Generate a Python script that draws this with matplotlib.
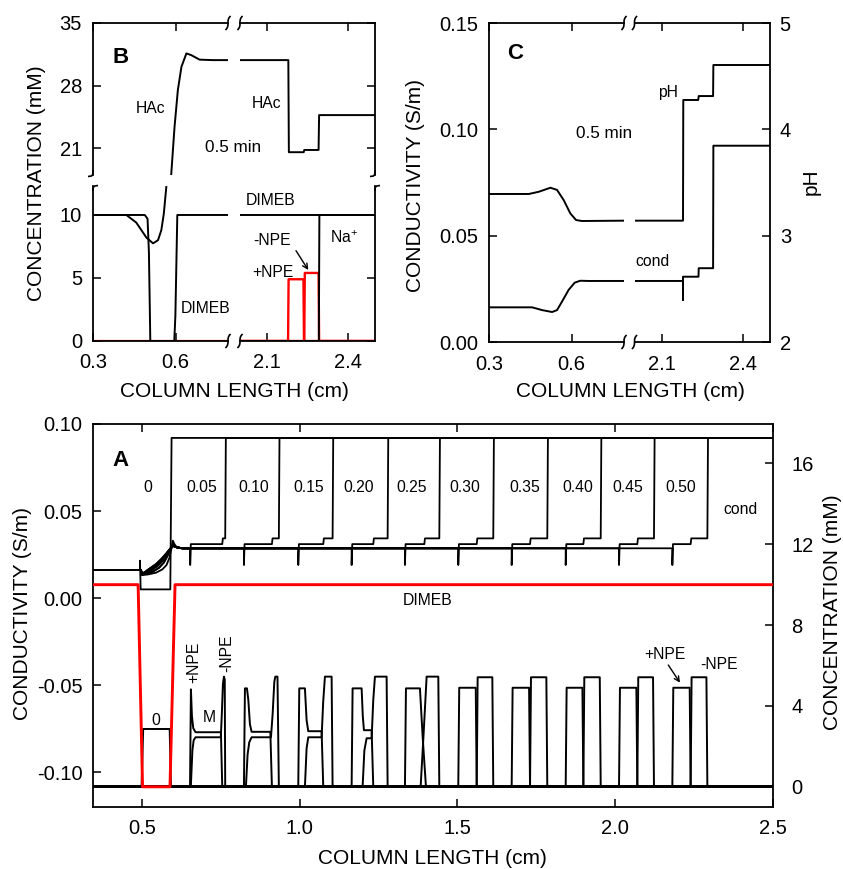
import numpy as np
import matplotlib
matplotlib.use("Agg")
import matplotlib.pyplot as plt
from matplotlib.lines import Line2D

plt.rcParams["font.family"] = ["Liberation Sans", "DejaVu Sans"]
plt.rcParams["axes.unicode_minus"] = False
plt.rcParams["mathtext.fontset"] = "custom"
plt.rcParams["mathtext.rm"] = "Liberation Sans"
plt.rcParams["mathtext.it"] = "Liberation Sans:italic"
plt.rcParams["mathtext.bf"] = "Liberation Sans:bold"

# ======================= DATA: panel A =======================
a_time_labels = ["0", "0.05", "0.10", "0.15", "0.20", "0.25",
                 "0.30", "0.35", "0.40", "0.45", "0.50"]
# conductivity at t = 0
a_cond0_x = [0.345, 0.494, 0.494, 0.496, 0.590, 0.594, 2.5]
a_cond0_y = [0.0161, 0.0161, 0.0215, 0.005, 0.005, 0.092, 0.092]
# conductivity shapes around the original sample zone
a_head_x = [
    [0.500, 0.520, 0.545, 0.565, 0.578, 0.588, 0.594, 0.598, 0.603, 0.610, 0.625],
    [0.500, 0.515, 0.535, 0.555, 0.570, 0.582, 0.592, 0.600, 0.610, 0.625],
    [0.500, 0.512, 0.530, 0.550, 0.566, 0.580, 0.590, 0.598, 0.610, 0.628],
    [0.500, 0.515, 0.530, 0.547, 0.562, 0.575, 0.587, 0.597, 0.610, 0.630],
    [0.500, 0.510, 0.525, 0.545, 0.562, 0.578, 0.590, 0.600, 0.612, 0.632],
]
a_head_y = [
    [0.0132, 0.0136, 0.0146, 0.0165, 0.0190, 0.0235, 0.0290, 0.0330, 0.0310, 0.0292, 0.0286],
    [0.0135, 0.0140, 0.0152, 0.0175, 0.0205, 0.0245, 0.0285, 0.0305, 0.0293, 0.0286],
    [0.0137, 0.0145, 0.0160, 0.0185, 0.0215, 0.0250, 0.0282, 0.0302, 0.0292, 0.0286],
    [0.0138, 0.0148, 0.0165, 0.0190, 0.0215, 0.0245, 0.0275, 0.0300, 0.0292, 0.0286],
    [0.0140, 0.0150, 0.0170, 0.0195, 0.0225, 0.0258, 0.0285, 0.0300, 0.0290, 0.0286],
]
a_head_of = [0, 1, 1, 2, 2, 3, 3, 4, 4, 4]
# zone boundaries for t = 0.05 ... 0.50 (cm)
a_zone_left = [0.653, 0.8233, 0.9955, 1.1646, 1.3336, 1.5026, 1.6718, 1.843, 2.012, 2.181]
a_zone_step = [0.7546, 0.912, 1.0747, 1.2332, 1.395, 1.561, 1.730, 1.899, 2.070, 2.239]
a_zone_right = [0.764, 0.934, 1.1043, 1.2787, 1.4425, 1.6135, 1.7847, 1.954, 2.1228, 2.292]
a_cond_start = 0.0161
a_cond_plateau = 0.0286
a_cond_dip = 0.019
a_cond_npe1 = 0.031
a_cond_npe2 = 0.0343
a_cond_top = 0.092

# concentrations (mM)
a_sample0_x = [0.345, 0.499, 0.504, 0.588, 0.592, 2.5]
a_sample0_y = [0, 0, 2.86, 2.86, 0, 0]
a_dimeb_x = [0.345, 0.488, 0.502, 0.589, 0.605, 2.5]
a_dimeb_y = [10, 10, 0, 0, 10, 10]
# +NPE / -NPE profiles for the partly resolved times 0.05 ... 0.25
a_pos_x = [
    [0.345, 0.6525, 0.6553, 0.6585, 0.6627, 0.670, 0.7504, 0.7546, 2.5],
    [0.345, 0.8233, 0.8265, 0.8329, 0.8372, 0.8423, 0.8476, 0.907, 0.912, 2.5],
    [0.345, 0.9955, 0.9987, 1.0166, 1.0219, 1.0272, 1.0695, 1.0747, 2.5],
    [0.345, 1.1646, 1.1677, 1.1963, 1.2000, 1.2036, 1.228, 1.2332, 2.5],
    [0.345, 1.3336, 1.3368, 1.3811, 1.3900, 1.4002, 2.5],
]
a_pos_y = [
    [0, 0, 4.82, 3.5, 2.9, 2.7, 2.7, 0, 0],
    [0, 0, 4.87, 4.87, 4.3, 3.1, 2.72, 2.72, 0, 0],
    [0, 0, 4.87, 4.87, 3.3, 2.75, 2.75, 0, 0],
    [0, 0, 4.87, 4.87, 3.5, 2.8, 2.8, 0, 0],
    [0, 0, 4.87, 4.87, 2.4, 0, 0],
]
a_neg_x = [
    [0.345, 0.655, 0.660, 0.664, 0.670, 0.750, 0.753, 0.7568, 0.760, 0.7625, 0.764, 2.5],
    [0.345, 0.8296, 0.8349, 0.8402, 0.8476, 0.909, 0.9143, 0.9196, 0.9228, 0.9296, 0.934, 2.5],
    [0.345, 1.0166, 1.0219, 1.0272, 1.0695, 1.0745, 1.080, 1.1012, 1.1043, 2.5],
    [0.345, 1.1994, 1.205, 1.2121, 1.228, 1.2332, 1.2385, 1.2755, 1.2787, 2.5],
    [0.345, 1.3833, 1.3930, 1.4023, 1.4393, 1.4425, 2.5],
]
a_neg_y = [
    [0, 0, 1.8, 2.3, 2.45, 2.45, 3.5, 5.1, 5.45, 5.3, 0, 0],
    [0, 0, 1.6, 2.2, 2.45, 2.45, 3.6, 5.2, 5.45, 5.45, 0, 0],
    [0, 0, 1.9, 2.45, 2.45, 4.2, 5.45, 5.45, 0, 0],
    [0, 0, 1.8, 2.4, 2.4, 4.3, 5.45, 5.45, 0, 0],
    [0, 0, 2.7, 5.45, 5.45, 0, 0],
]
# fully resolved times 0.30 ... 0.50
a_sep_left = [1.5026, 1.6718, 1.843, 2.012, 2.181]
a_sep_mid = [1.561, 1.730, 1.899, 2.070, 2.239]
a_sep_right = [1.6135, 1.7847, 1.954, 2.1228, 2.292]
a_sep_pos_h = 4.9
a_sep_neg_h = 5.42

# ======================= DATA: panel B =======================
b_hac_left_x = [0.3, 0.421, 0.457, 0.494, 0.518, 0.536, 0.548, 0.557, 0.566, 0.575,
                0.584, 0.596, 0.608, 0.621, 0.639, 0.657, 0.687, 0.735, 0.79]
b_hac_left_y = [10.0, 10.0, 9.4, 8.2, 7.75, 8.0, 8.8, 10.1, 12.2, 15.0,
                18.1, 23.4, 27.5, 30.1, 31.6, 31.4, 30.9, 30.85, 30.85]
b_hac_right_x = [2.0, 2.179, 2.181, 2.236, 2.238, 2.291, 2.293, 2.5]
b_hac_right_y = [30.85, 30.85, 20.55, 20.55, 20.8, 20.8, 24.7, 24.7]
b_dimeb_left_x = [0.3, 0.488, 0.498, 0.503, 0.508, 0.595, 0.599, 0.606, 0.79]
b_dimeb_left_y = [10, 10, 9.7, 7, 0, 0, 2, 10, 10]
b_dimeb_right_x = [2.0, 2.5]
b_dimeb_right_y = [10, 10]
b_na_x = [2.0, 2.292, 2.294, 2.5]
b_na_y = [0, 0, 10, 10]
b_pnpe_x = [2.0, 2.178, 2.180, 2.235, 2.237, 2.5]
b_pnpe_y = [0, 0, 4.9, 4.9, 0, 0]
b_mnpe_x = [2.0, 2.238, 2.240, 2.291, 2.293, 2.5]
b_mnpe_y = [0, 0, 5.4, 5.4, 0, 0]
b_npe_left_x = [0.3, 0.79]
b_npe_left_y = [0, 0]

# ======================= DATA: panel C =======================
c_cond_left_x = [0.3, 0.4566, 0.4928, 0.529, 0.547, 0.565, 0.589, 0.611, 0.631, 0.6615, 0.79]
c_cond_left_y = [0.0163, 0.0163, 0.0150, 0.0141, 0.0150, 0.0190, 0.0245, 0.0279, 0.0288, 0.0287, 0.0287]
c_cond_right_x = [2.0, 2.179, 2.179, 2.179, 2.236, 2.237, 2.290, 2.291, 2.5]
c_cond_right_y = [0.0287, 0.0287, 0.0198, 0.0307, 0.0307, 0.0347, 0.0347, 0.0923, 0.0923]
c_ph_left_x = [0.3, 0.4446, 0.4808, 0.523, 0.547, 0.571, 0.595, 0.616, 0.637, 0.79]
c_ph_left_y = [3.392, 3.392, 3.413, 3.451, 3.43, 3.335, 3.21, 3.147, 3.138, 3.141]
c_ph_right_x = [2.0, 2.179, 2.180, 2.235, 2.237, 2.290, 2.291, 2.5]
c_ph_right_y = [3.141, 3.141, 4.276, 4.276, 4.313, 4.313, 4.605, 4.605]

# ======================= FIGURE =======================
W, H = 843, 869
fig = plt.figure(figsize=(W / 100, H / 100), dpi=100)
RED = "#ff0000"
TICK_FS = 14.5
LAB_FS = 15
ANN_FS = 11.3
LW = 1.4


def rect(x0, x1, y0, y1):
    return [x0 / W, 1 - y1 / H, (x1 - x0) / W, (y1 - y0) / H]


def ftext(x, y, s, **kw):
    return fig.text(x / W, 1 - y / H, s, **kw)


def fline(xs, ys, lw=1.3):
    xs = np.asarray(xs, float)
    ys = np.asarray(ys, float)
    fig.add_artist(Line2D(xs / W, 1 - ys / H, transform=fig.transFigure,
                          color="k", lw=lw, solid_capstyle="butt"))


def squig(xc, yc):
    t = np.linspace(-1, 1, 25)
    fline(xc - 2.6 * t ** 3, yc + 7 * t, lw=1.2)


def style(ax):
    for s in ax.spines.values():
        s.set_linewidth(1.3)
    ax.tick_params(direction="in", length=6, width=1.1, labelsize=TICK_FS)
    ax.patch.set_alpha(0)


# ---------------- Panel B ----------------
bUL = fig.add_axes(rect(93, 228, 23, 175))
bUR = fig.add_axes(rect(240, 375, 23, 175))
bLL = fig.add_axes(rect(93, 228, 186, 341))
bLR = fig.add_axes(rect(240, 375, 186, 341))
for a in (bUL, bUR, bLL, bLR):
    style(a)
for a in (bUL, bLL):
    a.set_xlim(0.3, 0.79)
for a in (bUR, bLR):
    a.set_xlim(2.0, 2.5)
for a in (bUL, bUR):
    a.set_ylim(18.0, 35.0)
for a in (bLL, bLR):
    a.set_ylim(0, 12.3)

bUL.spines["right"].set_visible(False); bUL.spines["bottom"].set_visible(False)
bUR.spines["left"].set_visible(False); bUR.spines["bottom"].set_visible(False)
bLL.spines["right"].set_visible(False); bLL.spines["top"].set_visible(False)
bLR.spines["left"].set_visible(False); bLR.spines["top"].set_visible(False)

bUL.set_xticks([0.3, 0.6]); bUL.set_yticks([21, 28, 35])
bUL.tick_params(bottom=False, labelbottom=False, top=True, right=False)
bUL.tick_params(axis="y", pad=8)
bUR.set_xticks([2.1, 2.4]); bUR.set_yticks([21, 28, 35])
bUR.tick_params(bottom=False, labelbottom=False, top=True, left=False, labelleft=False, right=True)
bLL.set_xticks([0.3, 0.6]); bLL.set_xticklabels(["0.3", "0.6"]); bLL.set_yticks([0, 5, 10])
bLL.tick_params(top=False, right=False)
bLL.tick_params(axis="y", pad=8)
bLL.tick_params(axis="x", pad=9)
bLR.set_xticks([2.1, 2.4]); bLR.set_xticklabels(["2.1", "2.4"]); bLR.set_yticks([0, 5, 10])
bLR.tick_params(top=False, left=False, labelleft=False, right=True)
bLR.tick_params(axis="x", pad=9)

for a in (bUL, bLL):
    a.plot(b_npe_left_x, b_npe_left_y, color=RED, lw=1.6, zorder=2)
    a.plot(b_hac_left_x, b_hac_left_y, color="k", lw=LW, zorder=3)
    a.plot(b_dimeb_left_x, b_dimeb_left_y, color="k", lw=LW, zorder=3)
for a in (bUR, bLR):
    a.plot(b_pnpe_x, b_pnpe_y, color=RED, lw=1.7, zorder=2)
    a.plot(b_mnpe_x, b_mnpe_y, color=RED, lw=1.7, zorder=2)
    a.plot(b_hac_right_x, b_hac_right_y, color="k", lw=LW, zorder=3)
    a.plot(b_dimeb_right_x, b_dimeb_right_y, color="k", lw=LW, zorder=3)
    a.plot(b_na_x, b_na_y, color="k", lw=LW, zorder=3)

# break marks panel B
for yc in (23, 341):
    squig(228, yc)
    squig(240, yc)
for xc in (93, 375):
    fline([xc, xc, xc - 1.5, xc - 5], [170, 174, 176, 176.5], lw=1.2)
    fline([xc + 5, xc + 1.5, xc, xc], [185.5, 186, 188, 191], lw=1.2)

ftext(121, 62.7, "B", fontsize=16, fontweight="bold", ha="center", va="baseline")
ftext(151, 113.3, "HAc", fontsize=ANN_FS, ha="center", va="baseline")
ftext(267, 108.3, "HAc", fontsize=ANN_FS, ha="center", va="baseline")
ftext(233.5, 151.7, "0.5 min", fontsize=12.3, ha="center", va="baseline")
ftext(271, 205, "DIMEB", fontsize=ANN_FS, ha="center", va="baseline")
ftext(206, 312.7, "DIMEB", fontsize=ANN_FS, ha="center", va="baseline")
ftext(272, 245, "-NPE", fontsize=ANN_FS, ha="center", va="baseline")
ftext(273, 276.7, "+NPE", fontsize=ANN_FS, ha="center", va="baseline")
ftext(330, 243.3, r"Na$^{+}$", fontsize=ANN_FS, ha="left", va="baseline")
bLR.annotate("", xy=(308.3 / W, 1 - 270 / H), xytext=(296 / W, 1 - 250.7 / H),
             xycoords="figure fraction", textcoords="figure fraction",
             arrowprops=dict(arrowstyle="->", lw=1.0, color="k", mutation_scale=9,
                             shrinkA=0, shrinkB=0))
ftext(37, 183, "CONCENTRATION (mM)", fontsize=LAB_FS, rotation=90, ha="center", va="center")
ftext(234, 391, "COLUMN LENGTH (cm)", fontsize=LAB_FS, ha="center", va="center")

# ---------------- Panel C ----------------
cL = fig.add_axes(rect(489, 624, 23, 342))
cR = fig.add_axes(rect(634.5, 770, 23, 342))
for a in (cL, cR):
    style(a)
    a.set_ylim(0, 0.15)
cL.set_xlim(0.3, 0.79)
cR.set_xlim(2.0, 2.5)
tL = cL.twinx()
tR = cR.twinx()
cL.spines["right"].set_visible(False)
cR.spines["left"].set_visible(False)
cL.set_xticks([0.3, 0.6]); cL.set_xticklabels(["0.3", "0.6"])
cL.set_yticks([0, 0.05, 0.10, 0.15]); cL.set_yticklabels(["0.00", "0.05", "0.10", "0.15"])
cL.tick_params(top=True, right=False, left=True, labelleft=True)
cL.tick_params(axis="y", pad=8)
cL.tick_params(axis="x", pad=9)
cR.set_xticks([2.1, 2.4]); cR.set_xticklabels(["2.1", "2.4"])
cR.tick_params(top=True, left=False, labelleft=False, right=False, labelright=False)
cR.tick_params(axis="x", pad=9)
for a in (tL, tR):
    a.set_ylim(2, 5)
    for s in a.spines.values():
        s.set_visible(False)
tL.tick_params(left=False, right=False, labelleft=False, labelright=False)
tR.set_yticks([2, 3, 4, 5])
tR.tick_params(direction="in", length=6, width=1.1, labelsize=TICK_FS,
               right=True, left=False, labelleft=False, pad=7)

cL.plot(c_cond_left_x, c_cond_left_y, color="k", lw=LW)
cR.plot(c_cond_right_x, c_cond_right_y, color="k", lw=LW)
tL.plot(c_ph_left_x, c_ph_left_y, color="k", lw=LW)
tR.plot(c_ph_right_x, c_ph_right_y, color="k", lw=LW)

for yc in (23, 342):
    squig(624, yc)
    squig(634.5, yc)

ftext(515, 59.3, "C", fontsize=16, fontweight="bold", ha="center", va="baseline")
ftext(668.3, 96.7, "pH", fontsize=ANN_FS, ha="center", va="baseline")
ftext(604, 138.3, "0.5 min", fontsize=12.3, ha="center", va="baseline")
ftext(652.7, 266, "cond", fontsize=ANN_FS, ha="center", va="baseline")
ftext(415.5, 185, "CONDUCTIVITY (S/m)", fontsize=LAB_FS, rotation=90, ha="center", va="center")
ftext(811, 182, "pH", fontsize=LAB_FS, rotation=90, ha="center", va="center")
ftext(630, 391, "COLUMN LENGTH (cm)", fontsize=LAB_FS, ha="center", va="center")

# ---------------- Panel A ----------------
axA = fig.add_axes(rect(93, 773, 424, 807))
style(axA)
axA.set_xlim(0.345, 2.5)
axA.set_ylim(-0.12, 0.10)
axA2 = axA.twinx()
axA.set_xticks([0.5, 1.0, 1.5, 2.0, 2.5])
axA.set_xticklabels(["0.5", "1.0", "1.5", "2.0", "2.5"])
axA.set_yticks([-0.10, -0.05, 0.0, 0.05, 0.10])
axA.set_yticklabels(["-0.10", "-0.05", "0.00", "0.05", "0.10"])
axA.tick_params(top=True, right=False, left=True)
axA.tick_params(axis="y", pad=7.5)
axA.tick_params(axis="x", pad=9)
axA2.set_ylim(-1, 17.95)
for s in axA2.spines.values():
    s.set_visible(False)
axA2.set_yticks([0, 4, 8, 12, 16])
axA2.tick_params(direction="in", length=6, width=1.1, labelsize=TICK_FS,
                 right=True, left=False, pad=13)

# conductivity curves
axA.plot(a_cond0_x, a_cond0_y, color="k", lw=1.3)
for i in range(len(a_zone_left)):
    h = a_head_of[i]
    L, S, R = a_zone_left[i], a_zone_step[i], a_zone_right[i]
    xs = [0.345, 0.497] + a_head_x[h] + [L, L, L + 0.002, S, S + 0.002, R, R + 0.002, 2.5]
    ys = ([a_cond_start, a_cond_start] + a_head_y[h] +
          [a_cond_plateau, a_cond_dip, a_cond_npe1, a_cond_npe1,
           a_cond_npe2, a_cond_npe2, a_cond_top, a_cond_top])
    axA.plot(xs, ys, color="k", lw=1.3)

# concentration curves
axA2.plot(a_sample0_x, a_sample0_y, color="k", lw=LW)
for xs, ys in zip(a_pos_x, a_pos_y):
    axA2.plot(xs, ys, color="k", lw=LW)
for xs, ys in zip(a_neg_x, a_neg_y):
    axA2.plot(xs, ys, color="k", lw=LW)
for L, M, R in zip(a_sep_left, a_sep_mid, a_sep_right):
    axA2.plot([0.345, L, L + 0.003, M - 0.003, M, 2.5],
              [0, 0, a_sep_pos_h, a_sep_pos_h, 0, 0], color="k", lw=LW)
    axA2.plot([0.345, M, M + 0.003, R - 0.003, R, 2.5],
              [0, 0, a_sep_neg_h, a_sep_neg_h, 0, 0], color="k", lw=LW)
axA2.plot(a_dimeb_x, a_dimeb_y, color=RED, lw=2.1, zorder=5)

ftext(120, 466, "A", fontsize=16, fontweight="bold", ha="center", va="baseline")
a_label_x = [147.8, 201.7, 253.3, 308.7, 359, 411.3, 465.3, 524.7, 577.5, 627.5, 680.8]
for lx, s in zip(a_label_x, a_time_labels):
    ftext(lx, 492, s, fontsize=ANN_FS, ha="center", va="baseline")
ftext(740.3, 514, "cond", fontsize=ANN_FS, ha="center", va="baseline")
ftext(427.5, 605, "DIMEB", fontsize=ANN_FS, ha="center", va="baseline")
ftext(155.8, 725, "0", fontsize=ANN_FS, ha="center", va="baseline")
ftext(208.8, 721.7, "M", fontsize=ANN_FS, ha="center", va="baseline")
ftext(194.2, 662, "+NPE", fontsize=ANN_FS, rotation=90, ha="center", va="center")
ftext(226.7, 653.3, "-NPE", fontsize=ANN_FS, rotation=90, ha="center", va="center")
ftext(665.3, 659, "+NPE", fontsize=ANN_FS, ha="center", va="baseline")
ftext(718.7, 669.3, "-NPE", fontsize=ANN_FS, ha="center", va="baseline")
axA2.annotate("", xy=(680 / W, 1 - 682.7 / H), xytext=(668.3 / W, 1 - 665 / H),
              xycoords="figure fraction", textcoords="figure fraction",
              arrowprops=dict(arrowstyle="->", lw=1.0, color="k", mutation_scale=9,
                              shrinkA=0, shrinkB=0))
ftext(22.5, 614, "CONDUCTIVITY (S/m)", fontsize=LAB_FS, rotation=90, ha="center", va="center")
ftext(832, 612, "CONCENTRATION (mM)", fontsize=LAB_FS, rotation=90, ha="center", va="center")
ftext(432.5, 858, "COLUMN LENGTH (cm)", fontsize=LAB_FS, ha="center", va="center")

fig.savefig("out.png", dpi=100)
